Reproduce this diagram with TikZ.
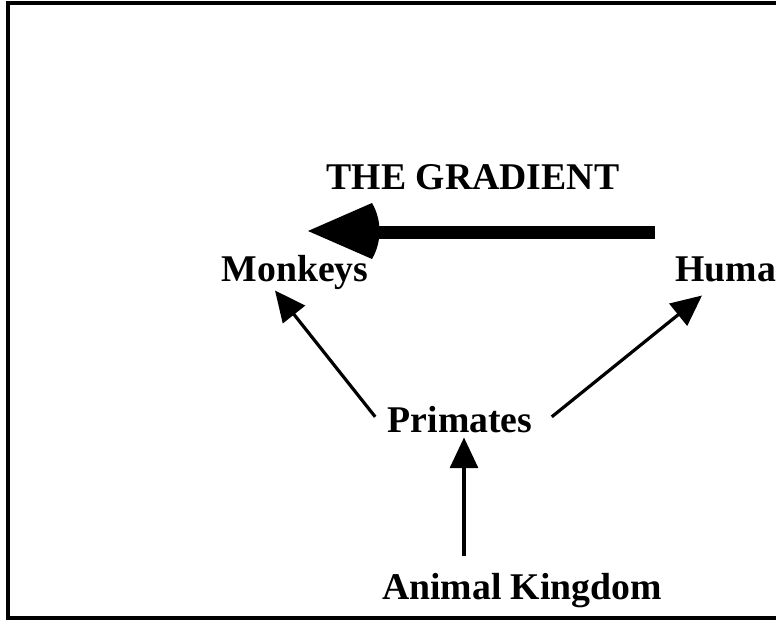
\documentclass[tikz,border=0pt]{standalone}
\usepackage{fontspec}
\setmainfont{Liberation Serif}
\usetikzlibrary{arrows.meta,calc}
\tikzset{every picture/.style={line width=0.75pt}}
\begin{document}
\begin{tikzpicture}[x=0.75pt,y=0.75pt,yscale=-1,xscale=1,
  label text/.style={anchor=base,inner sep=0pt,text height=19pt,text depth=6pt,font=\bfseries\fontsize{28.3}{34}\selectfont},
  thin arrow/.style={line width=2.4pt,-{Triangle[length=23pt,width=21pt]}}]
     \useasboundingbox (0,0) rectangle (776,620);
     \clip (0,0) rectangle (776,620);
     %Shape: Frame [id:frame]
     \draw  [line width=3pt]  (8,3) rectangle (800,618) ;
     % Text Node
     \node [label text] (grad) at (473,190) {THE GRADIENT};
     % Text Node
     \node [label text] (monk) at (295,282) {Monkeys};
     % Text Node
     \node [label text,anchor=base west] (hum) at (675,282) {Humans};
     % Text Node
     \node [label text] (prim) at (460,433) {Primates};
     % Text Node
     \node [label text] (ak) at (522,600) {Animal Kingdom};
     %Straight Lines [id:primmonk]
     \draw  [thin arrow]  ($(prim.west)+(-12,-7.5)$) -- ($(monk.south)+(-20,0)$) ;
     %Straight Lines [id:primhum]
     \draw  [thin arrow]  ($(prim.east)+(19,-7.5)$) -- ($(hum.south west)+(27,5)$) ;
     %Straight Lines [id:akprim]
     \draw  [thin arrow]  ($(ak.north)+(-58,-18)$) -- ($(prim.south)+(4,-4)$) ;
     %Gradient arrow
     \coordinate (gradtail) at (655,233);
     \coordinate (gradtip) at (308,231);
     \draw  [line width=9.75pt]  (gradtail) -- ($(gradtip)+(68,2)$) ;
     \fill  (gradtip) -- (372,203) .. controls (382,220) and (382,242) .. (372,259) -- cycle ;
\end{tikzpicture}
\end{document}
